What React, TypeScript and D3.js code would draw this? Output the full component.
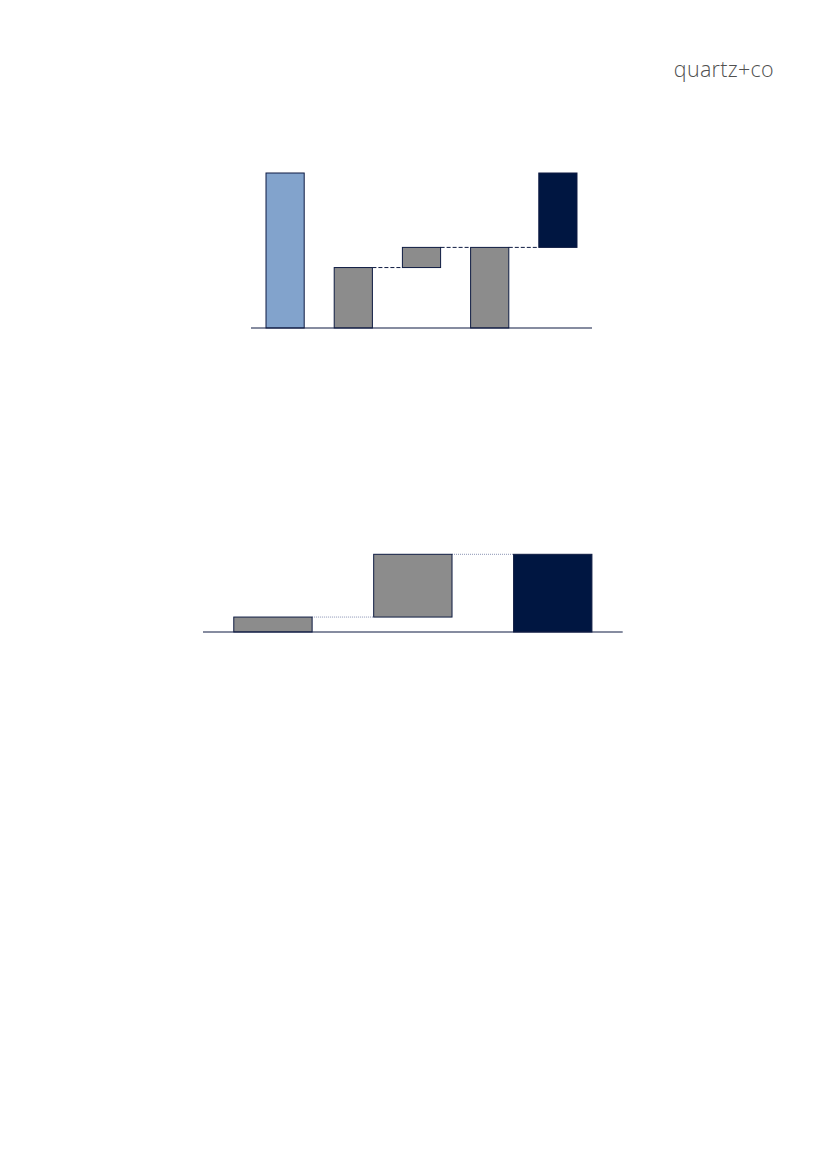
import React from "react";
import * as d3 from "d3";

// Chart 1: waterfall
const cats1 = ["a", "b", "c", "d", "e"];
const kinds1 = ["total", "total", "delta", "total", "delta"];
const values1 = [100, 39, 13, 52, 48];
const colors1 = ["#82A3CC", "#8C8C8C", "#8C8C8C", "#8C8C8C", "#001641"];
const links1 = [false, true, true, true];

// Chart 2: waterfall
const cats2 = ["a", "b", "c"];
const kinds2 = ["delta", "delta", "total"];
const values2 = [15, 63, 78];
const colors2 = ["#8C8C8C", "#8C8C8C", "#001641"];
const links2 = [true, true];

const NAVY = "#0E1B42";

type Seg = { cat: string; y0: number; y1: number; color: string; level: number };

function buildSegs(cats: string[], kinds: string[], vals: number[], colors: string[]): Seg[] {
  let run = 0;
  return cats.map((c, i) => {
    let y0: number, y1: number;
    if (kinds[i] === "delta") {
      y0 = run;
      y1 = run + vals[i];
      run = y1;
    } else {
      y0 = 0;
      y1 = vals[i];
      run = vals[i];
    }
    return { cat: c, y0, y1, color: colors[i], level: run };
  });
}

function Waterfall(props: {
  cats: string[];
  kinds: string[];
  vals: number[];
  colors: string[];
  links: boolean[];
  x0: number;
  x1: number;
  yBase: number;
  yTop: number;
  maxV: number;
  connector: { stroke: string; dash: string; width: number };
}) {
  const { cats, kinds, vals, colors, links, x0, x1, yBase, yTop, maxV, connector } = props;
  const segs = buildSegs(cats, kinds, vals, colors);
  const x = d3.scaleBand<string>().domain(cats).range([x0, x1]).paddingInner(0.44).paddingOuter(0.22);
  const y = d3.scaleLinear().domain([0, maxV]).range([yBase, yTop]);
  return (
    <g>
      {segs.slice(0, -1).map((s, i) => {
        if (!links[i]) return null;
        const n = segs[i + 1];
        const lv = s.level;
        return (
          <line
            key={"c" + i}
            x1={(x(s.cat) as number) + x.bandwidth()}
            x2={x(n.cat) as number}
            y1={y(lv)}
            y2={y(lv)}
            stroke={connector.stroke}
            strokeWidth={connector.width}
            strokeDasharray={connector.dash}
          />
        );
      })}
      {segs.map((s, i) => (
        <rect
          key={i}
          x={x(s.cat) as number}
          width={x.bandwidth()}
          y={y(Math.max(s.y0, s.y1))}
          height={Math.abs(y(s.y0) - y(s.y1))}
          fill={s.color}
          stroke={NAVY}
          strokeWidth={1}
        />
      ))}
      <line x1={x0} x2={x1} y1={yBase} y2={yBase} stroke={NAVY} strokeWidth={1.2} />
    </g>
  );
}

export default function App() {
  return (
    <svg
      width={827}
      height={1169}
      style={{ position: "absolute", left: 0, top: 0, background: "#fff" }}
    >
      <text
        x={774}
        y={77}
        textAnchor="end"
        fontFamily="'Open Sans', sans-serif"
        fontWeight={300}
        fontSize={21.5}
        letterSpacing={0.3}
        fill="#505050"
      >
        quartz+co
      </text>
      <Waterfall
        cats={cats1}
        kinds={kinds1}
        vals={values1}
        colors={colors1}
        links={links1}
        x0={251}
        x1={592}
        yBase={328}
        yTop={173}
        maxV={100}
        connector={{ stroke: NAVY, dash: "4,2", width: 1 }}
      />
      <Waterfall
        cats={cats2}
        kinds={kinds2}
        vals={values2}
        colors={colors2}
        links={links2}
        x0={203}
        x1={622.7}
        yBase={632}
        yTop={554.3}
        maxV={78}
        connector={{ stroke: "#8A93B3", dash: "1,1", width: 1 }}
      />
    </svg>
  );
}
